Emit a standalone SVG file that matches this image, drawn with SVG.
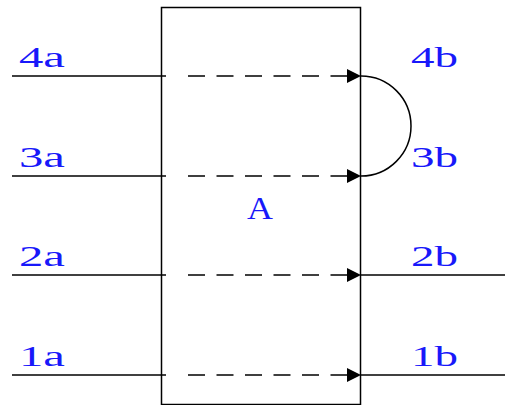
<svg xmlns="http://www.w3.org/2000/svg" width="505" height="405" viewBox="0 0 505 405">
<style>
.l{stroke:#000;stroke-width:1.5;fill:none}
.d{stroke:#000;stroke-width:1.5;fill:none;stroke-dasharray:17,11.5}
.t{font-family:"Liberation Serif","DejaVu Serif",serif;font-size:30px;fill:#1818fa}
</style>
<defs>
<marker id="ah" markerWidth="15" markerHeight="14" refX="0" refY="7" orient="auto" markerUnits="userSpaceOnUse">
<path d="M0,0 L14,7 L0,14 Z" fill="#000"/>
</marker>
</defs>
<rect width="505" height="405" fill="#fff"/>
<g id="A">
<rect x="161.5" y="7.5" width="199" height="397" class="l"/>
<text x="247" y="219" class="t" style="font-size:31px" textLength="26" lengthAdjust="spacingAndGlyphs">A</text>
</g>
<g id="connectors">
<line x1="12" y1="76" x2="166" y2="76" class="l"/>
<line x1="188" y1="76" x2="347" y2="76" class="d" marker-end="url(#ah)"/>
<line x1="12" y1="176" x2="166" y2="176" class="l"/>
<line x1="188" y1="176" x2="347" y2="176" class="d" marker-end="url(#ah)"/>
<line x1="12" y1="275" x2="166" y2="275" class="l"/>
<line x1="188" y1="275" x2="347" y2="275" class="d" marker-end="url(#ah)"/>
<line x1="12" y1="375" x2="166" y2="375" class="l"/>
<line x1="188" y1="375" x2="347" y2="375" class="d" marker-end="url(#ah)"/>
<path d="M361,76 A50,50 0 0 1 361,176" class="l"/>
<line x1="361" y1="275" x2="505" y2="275" class="l"/>
<line x1="361" y1="375" x2="505" y2="375" class="l"/>
</g>
<g id="labels">
<text x="19" y="67" class="t" textLength="46" lengthAdjust="spacingAndGlyphs">4a</text>
<text x="19" y="167" class="t" textLength="46" lengthAdjust="spacingAndGlyphs">3a</text>
<text x="19" y="266" class="t" textLength="46" lengthAdjust="spacingAndGlyphs">2a</text>
<text x="19" y="366" class="t" textLength="46" lengthAdjust="spacingAndGlyphs">1a</text>
<text x="411" y="67" class="t" textLength="47" lengthAdjust="spacingAndGlyphs">4b</text>
<text x="411" y="167" class="t" textLength="47" lengthAdjust="spacingAndGlyphs">3b</text>
<text x="411" y="266" class="t" textLength="47" lengthAdjust="spacingAndGlyphs">2b</text>
<text x="411" y="366" class="t" textLength="47" lengthAdjust="spacingAndGlyphs">1b</text>
</g>
</svg>
